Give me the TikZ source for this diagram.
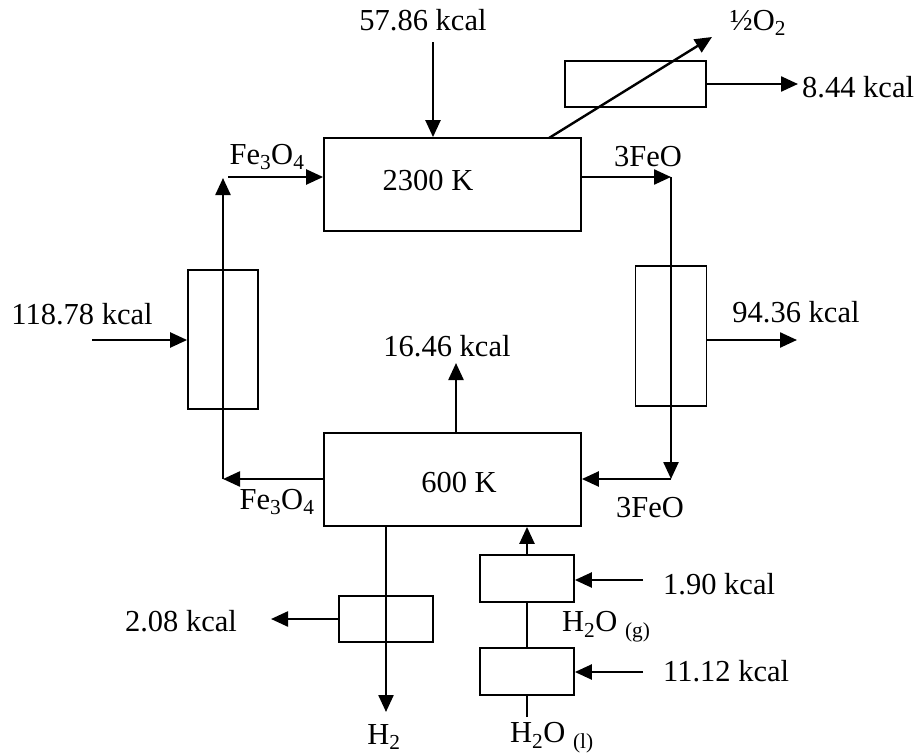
\documentclass[tikz,border=0pt]{standalone}
\usepackage{fontspec}
\setmainfont{Liberation Serif}
\usetikzlibrary{arrows.meta}
\begin{document}
\begin{tikzpicture}[x=1pt,y=1pt,
  every node/.style={font=\fontsize{30.5}{36}\selectfont, inner sep=0pt},
  unit/.style={draw, line width=1.8pt, rectangle, minimum width=#1},
  flow/.style={line width=2.4pt, -{Triangle[length=17pt,width=15pt]}},
  plain/.style={line width=2.4pt},
  thin/.style={line width=1.1pt}]
\useasboundingbox (0,0) rectangle (918,-755);
% process units
\node[unit=257pt, minimum height=93pt] (hot) at (452.5,-184.5) {};
\node[unit=257pt, minimum height=93pt] (cold) at (452.5,-479.5) {};
\node[unit=141pt, minimum height=46pt] (o2hx) at (635.5,-84) {};
\node[unit=70pt, minimum height=139pt] (lhx) at (223,-339.5) {};
\node[unit=71pt, minimum height=140pt] (rhx) at (671,-336) {};
\node[unit=94pt, minimum height=46pt] (h2hx) at (386,-619) {};
\node[unit=94pt, minimum height=47pt] (evapA) at (527,-578.5) {};
\node[unit=94pt, minimum height=47pt] (evapB) at (527,-671.5) {};
% texts
\node (t2300) at (428,-181) {2300 K};
\node (t600) at (459,-482) {600 K};
\node (t57) at (423,-20) {57.86 kcal};
\node (to2) at (758,-23) {½O\textsubscript{2}};
\node[anchor=west] (t844) at (802,-87) {8.44 kcal};
\node (tfeTop) at (267,-157) {Fe\textsubscript{3}O\textsubscript{4}};
\node (tfeoTop) at (648,-157) {3FeO};
\node (t118) at (82,-314) {118.78 kcal};
\node (t94) at (796,-312) {94.36 kcal};
\node (t16) at (447,-346) {16.46 kcal};
\node (tfeBot) at (277,-502) {Fe\textsubscript{3}O\textsubscript{4}};
\node (tfeoBot) at (650,-508) {3FeO};
\node (t208) at (181,-621) {2.08 kcal};
\node[anchor=west] (t190) at (663,-584) {1.90 kcal};
\node[anchor=west] (t1112) at (663,-671) {11.12 kcal};
\node[anchor=west] (th2og) at (562,-627) {H\textsubscript{2}O \textsubscript{(g)}};
\node (th2) at (384,-737) {H\textsubscript{2}};
\node[anchor=west] (th2ol) at (510,-738) {H\textsubscript{2}O \textsubscript{(l)}};
% connector end points
\coordinate (q57) at (433,-42);
\coordinate (dstart) at (549,-138);
\coordinate (dend) at (712,-37);
\coordinate (q844) at (798,-84);
\coordinate (lbot) at (223,-479);
\coordinate (ltop) at (223,-178);
\coordinate (fein) at (228,-177);
\coordinate (rtop) at (671,-177);
\coordinate (rbot) at (671,-479);
\coordinate (q94) at (797,-340);
\coordinate (q118) at (92,-340);
\coordinate (q16a) at (456,-433);
\coordinate (q16b) at (456,-363);
\coordinate (h2a) at (386,-526);
\coordinate (h2b) at (386,-712);
\coordinate (q208) at (271,-619);
\coordinate (wl) at (527,-717);
\coordinate (q190) at (643,-580);
\coordinate (q1112) at (643,-672);
% connectors
\draw[flow] (q57) -- (q57 |- hot.north);
\draw[flow] (dstart) -- (dend);
\draw[flow] (o2hx.east) -- (q844);
\draw[flow] (fein) -- (fein -| hot.west);
\draw[flow] (hot.east |- rtop) -- (rtop);
\draw[flow] (rtop) -- (rbot);
\draw[flow] (rbot) -- (rbot -| cold.east);
\draw[flow] (lbot -| cold.west) -- (lbot);
\draw[flow] (lbot) -- (ltop);
\draw[flow] (rhx.east |- q94) -- (q94);
\draw[flow] (q118) -- (q118 -| lhx.west);
\draw[flow] (q16a) -- (q16b);
\draw[flow] (h2a) -- (h2b);
\draw[flow] (h2hx.west) -- (q208);
\draw[thin] (wl) -- (wl |- evapB.south);
\draw[plain] (evapB.north) -- (evapA.south);
\draw[flow] (evapA.north) -- (evapA.north |- cold.south);
\draw[flow] (q190) -- (q190 -| evapA.east);
\draw[flow] (q1112) -- (q1112 -| evapB.east);
\end{tikzpicture}
\end{document}
